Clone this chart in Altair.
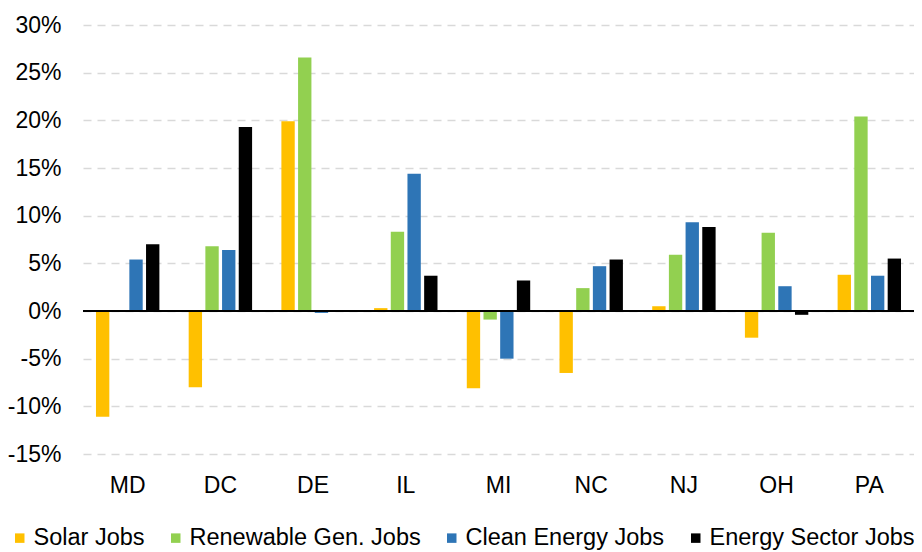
import altair as alt
import pandas as pd

states = ["MD", "DC", "DE", "IL", "MI", "NC", "NJ", "OH", "PA"]
series = ["Solar Jobs", "Renewable Gen. Jobs", "Clean Energy Jobs", "Energy Sector Jobs"]
solar = [-11.1, -8.0, 19.9, 0.3, -8.1, -6.5, 0.5, -2.8, 3.8]
renewable = [-0.1, 6.8, 26.6, 8.3, -0.9, 2.4, 5.9, 8.2, 20.4]
clean = [5.4, 6.4, -0.2, 14.4, -5.0, 4.7, 9.3, 2.6, 3.7]
energy = [7.0, 19.3, -0.1, 3.7, 3.2, 5.4, 8.8, -0.4, 5.5]
colors = ["#FFC000", "#92D050", "#2E75B6", "#000000"]
y_ticks = [-15, -10, -5, 0, 5, 10, 15, 20, 25, 30]

rows = []
for vals, s in zip([solar, renewable, clean, energy], series):
    for st, v in zip(states, vals):
        rows.append({"State": st, "Series": s, "Value": v})
df = pd.DataFrame(rows)

FONT = "Liberation Sans"

bars = alt.Chart(df).mark_bar().encode(
    x=alt.X("State:N", sort=states, title=None,
            scale=alt.Scale(paddingInner=0.28, paddingOuter=0.122),
            axis=alt.Axis(labelAngle=0, domain=False, ticks=False, tickSize=0,
                          labelPadding=20, labelFontSize=23, labelFont=FONT,
                          labelColor="#000000", grid=False)),
    xOffset=alt.XOffset("Series:N", sort=series,
                        scale=alt.Scale(paddingInner=0.2, paddingOuter=0.1)),
    y=alt.Y("Value:Q", title=None,
            scale=alt.Scale(domain=[-15, 30], nice=False, zero=False),
            axis=alt.Axis(values=y_ticks, labelExpr="datum.value + '%'",
                          domain=False, ticks=False, tickSize=0, labelPadding=22,
                          labelFontSize=23, labelFont=FONT, labelColor="#000000",
                          grid=True, gridColor="#D9D9D9", gridDash=[8, 6],
                          gridWidth=1.5)),
    color=alt.Color("Series:N", sort=series,
                    scale=alt.Scale(domain=series, range=colors),
                    legend=alt.Legend(title=None, orient="none", direction="horizontal",
                                      legendX=-75, legendY=501, symbolType="square",
                                      symbolSize=90, symbolStrokeWidth=0,
                                      labelFontSize=23.5, labelFont=FONT,
                                      labelColor="#000000", labelOffset=2,
                                      labelLimit=400, columnPadding=19, padding=0)),
)

zero = alt.Chart(pd.DataFrame({"z": [0]})).mark_rule(color="#000000", strokeWidth=2).encode(
    y=alt.Y("z:Q")
)

chart = alt.layer(bars, zero).properties(
    width=831, height=429,
    autosize=alt.AutoSizeParams(type="none"),
    padding={"left": 75, "top": 17, "right": 0, "bottom": 98},
).configure_view(stroke=None)

chart.save("out.html", embed_options={"renderer": "svg", "actions": False})
